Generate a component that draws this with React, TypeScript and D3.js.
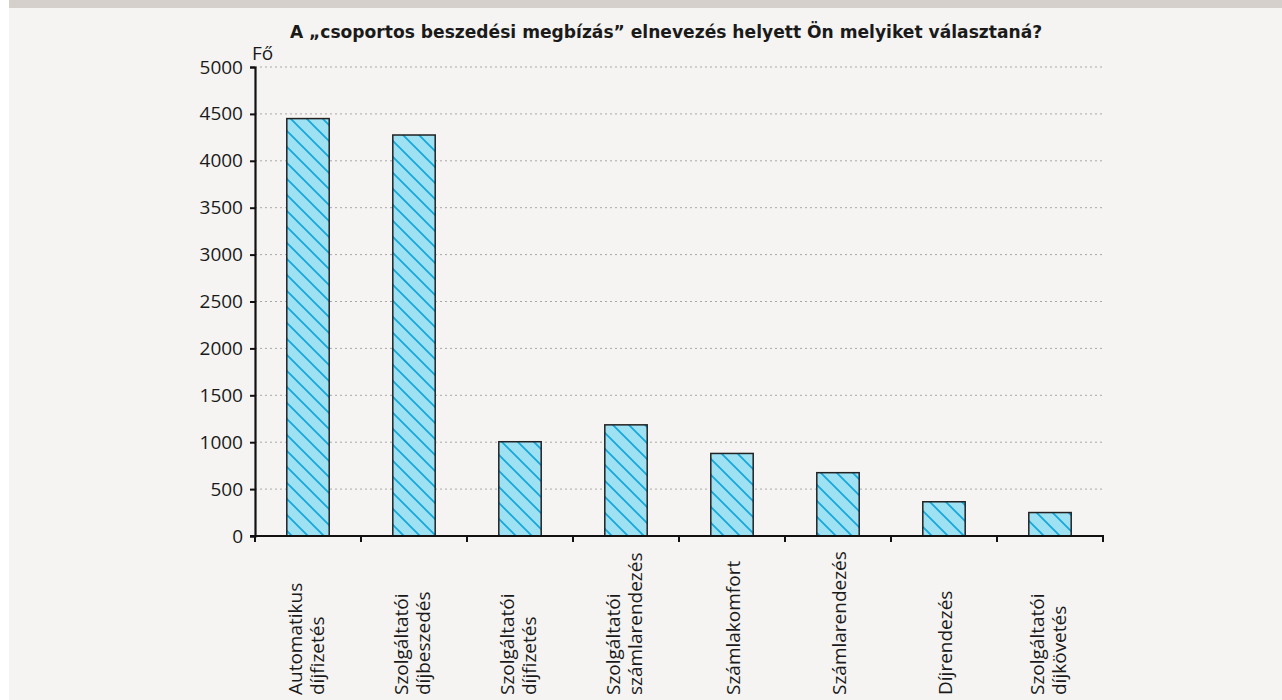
import * as d3 from 'd3'
import { useEffect, useRef } from 'react'

const W = 1282
const H = 700
const margin = { top: 67, right: 179, bottom: 164, left: 255 }
const width = W - margin.left - margin.right
const height = H - margin.top - margin.bottom

const title = 'A \u201Ecsoportos beszedési megbízás\u201D elnevezés helyett Ön melyiket választaná?'
const unit = 'Fő'

const categories = [
  ['Automatikus', 'díjfizetés'],
  ['Szolgáltatói', 'díjbeszedés'],
  ['Szolgáltatói', 'díjfizetés'],
  ['Szolgáltatói', 'számlarendezés'],
  ['Számlakomfort'],
  ['Számlarendezés'],
  ['Díjrendezés'],
  ['Szolgáltatói', 'díjkövetés'],
]
const values = [4450, 4275, 1005, 1185, 880, 675, 365, 250]
const yTicks = [0, 500, 1000, 1500, 2000, 2500, 3000, 3500, 4000, 4500, 5000]

const font = '"Open Sans", "Noto Sans", sans-serif'
const fontSize = 19

export default function App() {
  const ref = useRef<SVGSVGElement>(null)

  useEffect(() => {
    const root = d3.select(ref.current)
    root.selectAll('*').remove()

    root.append('rect').attr('width', W).attr('height', H).attr('fill', '#ffffff')
    root.append('rect').attr('x', 9).attr('width', W - 9).attr('height', H).attr('fill', '#f5f4f2')
    root.append('rect').attr('x', 9).attr('width', W - 9).attr('height', 8).attr('fill', '#d5d0cc')

    // hatch pattern
    const pat = root
      .append('defs')
      .append('pattern')
      .attr('id', 'hatch')
      .attr('patternUnits', 'userSpaceOnUse')
      .attr('width', 16)
      .attr('height', 16)
    pat.append('rect').attr('width', 16).attr('height', 16).attr('fill', '#9ee1f3')
    pat
      .append('path')
      .attr('d', 'M-4,-4 L20,20 M-4,12 L4,20 M12,-4 L20,4')
      .attr('stroke', '#15a8db')
      .attr('stroke-width', 1.8)

    root
      .append('text')
      .attr('x', 666)
      .attr('y', 38)
      .attr('text-anchor', 'middle')
      .attr('font-family', '"DejaVu Sans", sans-serif')
      .attr('font-weight', 'bold')
      .attr('font-size', 17.1)
      .attr('fill', '#1a1a1a')
      .text(title)

    const svg = root.append('g').attr('transform', `translate(${margin.left}, ${margin.top})`)

    const y = d3.scaleLinear().domain([0, 5000]).range([height, 0])
    const x = d3
      .scaleBand()
      .domain(categories.map((c) => c.join(' ')))
      .range([0, width])
      .paddingInner(0.6)
      .paddingOuter(0.3)

    // grid
    svg
      .append('g')
      .selectAll('line')
      .data(yTicks.filter((t) => t > 0))
      .enter()
      .append('line')
      .attr('x1', 0)
      .attr('x2', width)
      .attr('y1', (d) => y(d))
      .attr('y2', (d) => y(d))
      .attr('stroke', '#a8a8a8')
      .attr('stroke-width', 1)
      .attr('stroke-dasharray', '2,3')

    // bars
    svg
      .selectAll('rect.bar')
      .data(values)
      .enter()
      .append('rect')
      .attr('class', 'bar')
      .attr('x', (d, i) => x(categories[i].join(' '))!)
      .attr('y', (d) => y(d))
      .attr('width', x.bandwidth())
      .attr('height', (d) => height - y(d))
      .attr('fill', 'url(#hatch)')
      .attr('stroke', '#222')
      .attr('stroke-width', 1.5)

    // y axis
    const yAxis = svg
      .append('g')
      .call(d3.axisLeft(y).tickValues(yTicks).tickSize(5).tickPadding(7).tickFormat(d3.format('d')))
    yAxis.select('.domain').attr('stroke', '#111').attr('stroke-width', 2.2)
    yAxis.selectAll('.tick line').attr('stroke', '#111').attr('stroke-width', 2)
    yAxis
      .selectAll('.tick text')
      .attr('font-family', font)
      .attr('font-size', fontSize)
      .attr('fill', '#1a1a1a')

    svg
      .append('text')
      .attr('x', -3)
      .attr('y', -7)
      .attr('font-family', font)
      .attr('font-size', fontSize)
      .attr('fill', '#1a1a1a')
      .text(unit)

    // x axis: line and ticks at band boundaries
    const step = width / categories.length
    const xg = svg.append('g').attr('transform', `translate(0, ${height})`)
    xg.append('line')
      .attr('x1', -5)
      .attr('x2', width + 1)
      .attr('stroke', '#111')
      .attr('stroke-width', 2.2)
    xg.selectAll('line.tick')
      .data(d3.range(categories.length + 1))
      .enter()
      .append('line')
      .attr('class', 'tick')
      .attr('x1', (d) => d * step)
      .attr('x2', (d) => d * step)
      .attr('y1', 0)
      .attr('y2', 6)
      .attr('stroke', '#111')
      .attr('stroke-width', 2)

    // category labels, rotated
    categories.forEach((lines, i) => {
      const cx = x(lines.join(' '))! + x.bandwidth() / 2
      const n = lines.length
      lines.forEach((line, j) => {
        const off = n === 1 ? 8 : j === 0 ? -6 : 16
        svg
          .append('text')
          .attr('transform', `translate(${cx + off}, ${H - margin.top - 5}) rotate(-90)`)
          .attr('text-anchor', 'start')
          .attr('font-family', font)
          .attr('font-size', fontSize)
          .attr('fill', '#1a1a1a')
          .text(line)
      })
    })
  }, [])

  return (
    <svg
      ref={ref}
      width={W}
      height={H}
      style={{ position: 'absolute', left: 0, top: 0, display: 'block' }}
    />
  )
}
